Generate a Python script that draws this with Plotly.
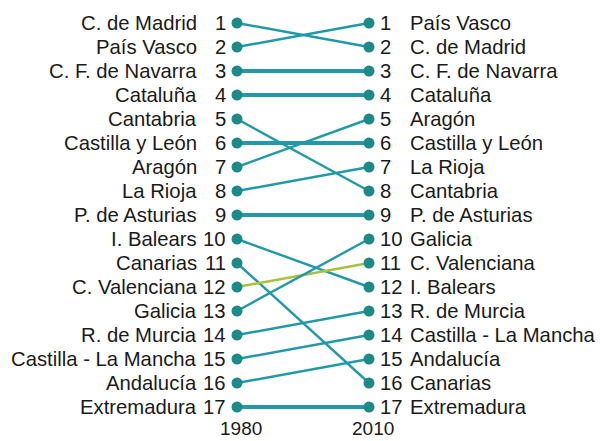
import plotly.graph_objects as go

regions = ["C. de Madrid", "País Vasco", "C. F. de Navarra", "Cataluña", "Cantabria",
           "Castilla y León", "Aragón", "La Rioja", "P. de Asturias", "I. Balears",
           "Canarias", "C. Valenciana", "Galicia", "R. de Murcia", "Castilla - La Mancha",
           "Andalucía", "Extremadura"]
rank_1980 = [1, 2, 3, 4, 5, 6, 7, 8, 9, 10, 11, 12, 13, 14, 15, 16, 17]
rank_2010 = [2, 1, 3, 4, 8, 6, 5, 7, 9, 12, 16, 11, 10, 13, 14, 15, 17]
years = ["1980", "2010"]
highlight = "C. Valenciana"

LINE = "#2299a8"
DOT = "#1b8a88"
HIGH = "#a8c13c"
TXT = "#1a1a1a"
FONT = "Liberation Sans, Arial, sans-serif"
FS = 20.3

fig = go.Figure()
xpos = [0, 1]
for name, a, b in zip(regions, rank_1980, rank_2010):
    col = HIGH if name == highlight else LINE
    w = 4 if a == b else 2.4
    fig.add_trace(go.Scatter(x=xpos, y=[a, b], mode="lines",
                             line=dict(color=col, width=w), hoverinfo="skip",
                             showlegend=False))

fig.add_trace(go.Scatter(x=[0] * len(rank_1980) + [1] * len(rank_2010),
                         y=rank_1980 + rank_2010, mode="markers",
                         marker=dict(color=DOT, size=11), showlegend=False,
                         hoverinfo="skip"))

ann = []
for name, a in zip(regions, rank_1980):
    ann.append(dict(x=0, y=a, xref="x", yref="y", text=name, showarrow=False,
                    xanchor="right", xshift=-38, font=dict(size=FS, color=TXT, family=FONT)))
    ann.append(dict(x=0, y=a, xref="x", yref="y", text=str(a), showarrow=False,
                    xanchor="right", xshift=-9, font=dict(size=FS, color=TXT, family=FONT)))
for name, b in zip(regions, rank_2010):
    ann.append(dict(x=1, y=b, xref="x", yref="y", text=str(b), showarrow=False,
                    xanchor="left", xshift=9, font=dict(size=FS, color=TXT, family=FONT)))
    ann.append(dict(x=1, y=b, xref="x", yref="y", text=name, showarrow=False,
                    xanchor="left", xshift=39, font=dict(size=FS, color=TXT, family=FONT)))
for xi, yr in zip(xpos, years):
    ann.append(dict(x=xi, y=17.9, xref="x", yref="y", text=yr, showarrow=False,
                    xanchor="center", xshift=4, borderpad=0,
                    font=dict(size=19, color=TXT, family=FONT)))

fig.update_layout(
    width=600, height=441,
    margin=dict(l=0, r=0, t=0, b=0),
    paper_bgcolor="white", plot_bgcolor="white",
    xaxis=dict(range=[-237 / 132, (600 - 237) / 132], visible=False, fixedrange=True),
    yaxis=dict(range=[1 + (441 - 23) / 24, 1 - 23 / 24], visible=False, fixedrange=True),
    annotations=ann,
)
fig.write_html("out.html", config={"displayModeBar": False},
               post_script="document.body.style.margin='0';document.body.style.overflow='hidden';")
